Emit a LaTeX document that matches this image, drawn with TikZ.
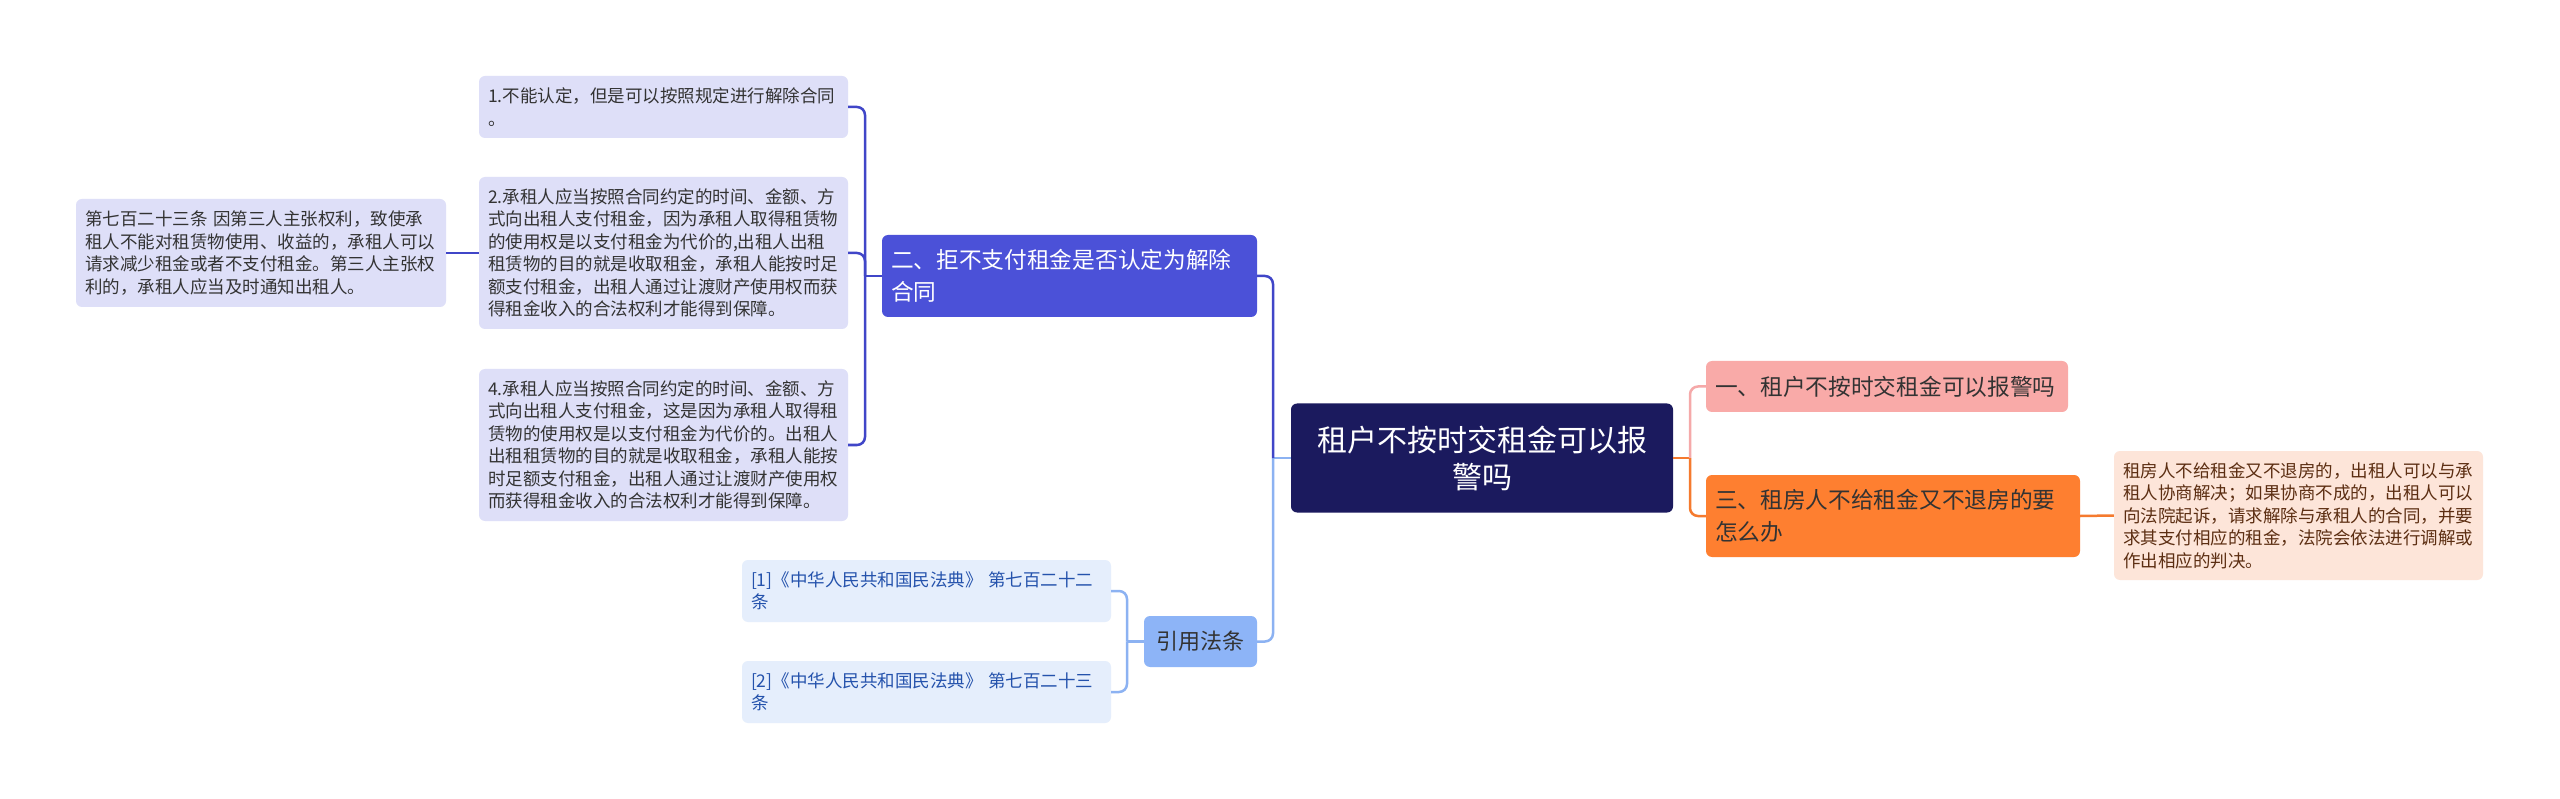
\documentclass[tikz,border=0pt]{standalone}
\usepackage{fontspec}
\usepackage{xcolor}
\usepackage{tikz}
\newfontfamily\cjkfont{Noto Sans CJK SC}
\definecolor{rootfill}{RGB}{27,26,94}
\definecolor{bluefill}{RGB}{75,81,216}
\definecolor{lavender}{RGB}{222,223,248}
\definecolor{skyfill}{RGB}{141,180,247}
\definecolor{paleblue}{RGB}{229,238,252}
\definecolor{refblue}{RGB}{36,82,172}
\definecolor{pinkfill}{RGB}{249,170,168}
\definecolor{orangefill}{RGB}{254,127,48}
\definecolor{peach}{RGB}{253,229,217}
\definecolor{browntext}{RGB}{92,46,18}
\definecolor{darktext}{RGB}{51,51,51}
\definecolor{blueline}{RGB}{64,70,200}
\definecolor{skyline}{RGB}{140,178,242}
\definecolor{pinkline}{RGB}{245,169,169}
\definecolor{orangeline}{RGB}{245,122,46}
\tikzset{
  box/.style={rounded corners=6pt, inner xsep=9pt, inner ysep=0pt, align=left},
  rootbox/.style={box, fill=rootfill, text=white, text width=364pt, minimum height=109pt,
    align=center, font={\cjkfont\fontsize{30pt}{37pt}\selectfont}},
  topicbox/.style={box, minimum height=82pt, font={\cjkfont\fontsize{22.7pt}{32pt}\selectfont}},
  leafbox/.style={box, fill=lavender, text=darktext, text width=351pt,
    font={\cjkfont\fontsize{17.5pt}{22.5pt}\selectfont}},
  refbox/.style={leafbox, fill=paleblue, text=refblue, minimum height=62pt},
  link/.style={line width=2.5pt, rounded corners=8pt}
}
\begin{document}
\begin{tikzpicture}[x=1pt, y=-1pt]
  \path[use as bounding box, fill=white] (0,0) rectangle (2560,799);

  \node[rootbox] (root) at (1482,458) {租户不按时交租金可以报\\警吗};

  % right side
  \node[topicbox, fill=pinkfill, text=darktext, text width=344pt, minimum height=51pt] (t1) at (1887,386.5)
    {一、租户不按时交租金可以报警吗};
  \node[topicbox, fill=orangefill, text=darktext, text width=356pt] (t3) at (1893,516)
    {三、租房人不给租金又不退房的要\\怎么办};
  \node[leafbox, fill=peach, text=browntext, minimum height=129pt] (rleaf) at (2298.5,515.5)
    {租房人不给租金又不退房的，出租人可以与承\\租人协商解决；如果协商不成的，出租人可以\\向法院起诉，请求解除与承租人的合同，并要\\求其支付相应的租金，法院会依法进行调解或\\作出相应的判决。};

  % left side
  \node[topicbox, fill=bluefill, text=white, text width=357pt] (t2) at (1069.5,276)
    {二、拒不支付租金是否认定为解除\\合同};
  \node[leafbox, minimum height=62pt] (l1) at (663.5,107)
    {1.不能认定，但是可以按照规定进行解除合同\\。};
  \node[leafbox, minimum height=152pt] (l2) at (663.5,253)
    {2.承租人应当按照合同约定的时间、金额、方\\式向出租人支付租金，因为承租人取得租赁物\\的使用权是以支付租金为代价的,出租人出租\\租赁物的目的就是收取租金，承租人能按时足\\额支付租金，出租人通过让渡财产使用权而获\\得租金收入的合法权利才能得到保障。};
  \node[leafbox, minimum height=152pt] (l4) at (663.5,445)
    {4.承租人应当按照合同约定的时间、金额、方\\式向出租人支付租金，这是因为承租人取得租\\赁物的使用权是以支付租金为代价的。出租人\\出租租赁物的目的就是收取租金，承租人能按\\时足额支付租金，出租人通过让渡财产使用权\\而获得租金收入的合法权利才能得到保障。};
  \node[leafbox, text width=352pt, minimum height=108pt] (lleaf) at (261,253)
    {第七百二十三条 因第三人主张权利，致使承\\租人不能对租赁物使用、收益的，承租人可以\\请求减少租金或者不支付租金。第三人主张权\\利的，承租人应当及时通知出租人。};

  \node[topicbox, fill=skyfill, text=darktext, inner xsep=0pt, text width=113pt, align=center,
    minimum height=51pt, font={\cjkfont\fontsize{22pt}{28pt}\selectfont}] (cite) at (1200.5,641.5) {引用法条};
  \node[refbox] (ref1) at (926.5,591) {[1]《中华人民共和国民法典》~第七百二十二\\条};
  \node[refbox] (ref2) at (926.5,692) {[2]《中华人民共和国民法典》~第七百二十三\\条};

  % connectors
  \coordinate (jL) at (1273,458);
  \coordinate (jR) at (1690,458);
  \coordinate (j2) at (865,276);
  \coordinate (jC) at (1127,641.5);

  \draw[link, orangeline] (root.east) -- (jR);
  \draw[link, pinkline] (jR) |- (t1.west);
  \draw[link, orangeline] (jR) |- (t3.west);
  \draw[link, orangeline] (t3.east) -- (rleaf.west);

  \draw[link, skyline] (root.west) -- (jL);
  \draw[link, skyline] (jL) |- (cite.east);
  \draw[link, blueline] (jL) |- (t2.east);

  \draw[link, blueline] (t2.west) -- (j2);
  \draw[link, blueline] (j2) |- (l1.east);
  \draw[link, blueline] (j2) |- (l2.east);
  \draw[link, blueline] (j2) |- (l4.east);
  \draw[link, blueline] (l2.west) -- (lleaf.east);

  \draw[link, skyline] (cite.west) -- (jC);
  \draw[link, skyline] (jC) |- (ref1.east);
  \draw[link, skyline] (jC) |- (ref2.east);
\end{tikzpicture}
\end{document}
